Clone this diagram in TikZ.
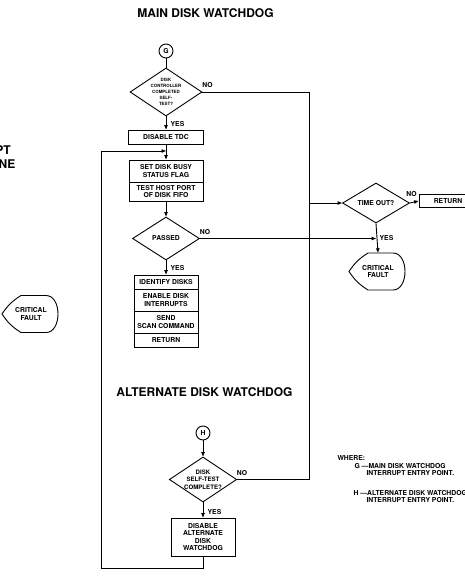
\documentclass[tikz,border=0pt]{standalone}
\usepackage{fontspec}
\setmainfont{TeX Gyre Heros}
\usetikzlibrary{shapes.geometric,arrows.meta,calc}
\newcommand\faultoutline[1]{%
  \draw[line, shift={(#1.center)}] (-29,0) to[bend left=12] (-10,-18.5) -- (15,-18.5)
    .. controls (31,-18.5) and (31,18.5) .. (15,18.5) -- (-10,18.5) to[bend left=12] (-29,0) -- cycle;}
\begin{document}
\begin{tikzpicture}[x=1pt,y=-1pt,
  every node/.style={font=\bfseries\fontsize{6.8}{7.6}\selectfont, align=center},
  line/.style={line width=0.9pt},
  arr/.style={line, -{Triangle[length=4.5pt,width=3.4pt]}},
  box/.style={draw, line width=0.9pt, inner sep=0.5pt},
  dia/.style={draw, diamond, line width=0.9pt, inner sep=0pt, aspect=1.5},
  circ/.style={draw, circle, line width=0.9pt, minimum size=14pt, inner sep=0pt},
  fault/.style={minimum width=56pt, minimum height=37pt, inner sep=0pt},
  bigtitle/.style={font=\bfseries\fontsize{12}{14}\selectfont},
  note/.style={anchor=west, align=left}
]
\useasboundingbox (0,0) rectangle (465,584);
\clip (0,0) rectangle (465,584);

% titles and cut-off texts
\node[bigtitle] (t1) at (205.5,13) {MAIN DISK WATCHDOG};
\node[bigtitle] (t2) at (204.5,392) {ALTERNATE DISK WATCHDOG};
\node[bigtitle, anchor=east, inner sep=0pt] (pt) at (11,150) {PT};
\node[bigtitle, anchor=east, inner sep=0pt] (ne) at (15.5,164) {NE};

% main watchdog
\node[circ] (G) at (166,51) {G};
\node[dia, minimum width=72pt, minimum height=48pt, font=\bfseries\fontsize{4.4}{6}\selectfont] (d1) at (166,92) {DISK\\CONTROLLER\\COMPLETED\\SELF-\\TEST?};
\node[box, minimum width=75pt, minimum height=14pt] (tdc) at (166,137) {DISABLE TDC};
\node[box, minimum width=74pt, minimum height=22pt] (busy) at (166,171) {SET DISK BUSY\\STATUS FLAG};
\node[box, minimum width=74pt, minimum height=19pt] (host) at (166,191.5) {TEST HOST PORT\\OF DISK FIFO};
\node[dia, minimum width=67pt, minimum height=43pt] (pass) at (166,238.5) {PASSED};
\node[box, minimum width=64pt, minimum height=14pt] (ident) at (166,282) {IDENTIFY DISKS};
\node[box, minimum width=64pt, minimum height=22pt] (enab) at (166,300) {ENABLE DISK\\INTERRUPTS};
\node[box, minimum width=64pt, minimum height=22pt] (send) at (166,322) {SEND\\SCAN COMMAND};
\node[box, minimum width=64pt, minimum height=14pt] (ret1) at (166,340) {RETURN};

% time out branch
\node[dia, minimum width=67pt, minimum height=40pt] (tout) at (376,203) {TIME OUT?};
\node[box, minimum width=58pt, minimum height=13pt] (ret2) at (448,201) {RETURN};
\node[fault] (cf2) at (378,271.5) {CRITICAL\\FAULT};
\faultoutline{cf2}
\node[fault] (cf1) at (31,314) {CRITICAL\\FAULT};
\faultoutline{cf1}

% alternate watchdog
\node[circ] (H) at (203,433) {H};
\node[dia, minimum width=66pt, minimum height=45pt, font=\bfseries\fontsize{6.1}{7.6}\selectfont] (d2) at (203,479.5) {DISK\\SELF-TEST\\COMPLETE?};
\node[box, minimum width=64pt, minimum height=38pt] (dalt) at (203,537) {DISABLE\\ALTERNATE\\DISK\\WATCHDOG};

% helper coordinates
\coordinate (rb) at (309,479.5);
\coordinate (lb) at (101,568);
\coordinate (lt) at (101,151);
\coordinate (jn) at (166,151);

% connectors
\draw[line] (G) -- (d1);
\draw[arr] (d1) -- (tdc);
\draw[arr] (tdc) -- (busy);
\draw[arr] (host) -- (pass);
\draw[arr] (pass) -- (ident);
\draw[line] (d1.east) -| (rb);
\draw[line] (d2.east) -- (rb);
\draw[arr] (rb |- tout.west) -- (tout.west);
\draw[arr] (tout.east) -- (ret2.west);
\draw[arr] (tout.south) -- (cf2.north);
\draw[arr] (pass.east) -- (pass.east -| tout.south);
\draw[arr] (H) -- (d2);
\draw[arr] (d2) -- (dalt);
\draw[arr] (dalt.south) |- (lb) -- (lt) -- (jn);

% branch labels
\node (no1) at (207.5,85) {NO};
\node (yes1) at (177.5,124) {YES};
\node (no2) at (205,232) {NO};
\node (yes2) at (177.5,268) {YES};
\node (no3) at (411.5,194) {NO};
\node (yes3) at (386.5,238) {YES};
\node (no4) at (242,473) {NO};
\node (yes4) at (214.5,512) {YES};

% legend
\node[note] (w0) at (334,458) {WHERE:};
\node[note] (w1) at (351,466) {G —MAIN DISK WATCHDOG};
\node[note] (w2) at (363,473) {INTERRUPT ENTRY POINT.};
\node[note] (w3) at (350,493) {H —ALTERNATE DISK WATCHDOG};
\node[note] (w4) at (363,500) {INTERRUPT ENTRY POINT.};
\end{tikzpicture}
\end{document}
